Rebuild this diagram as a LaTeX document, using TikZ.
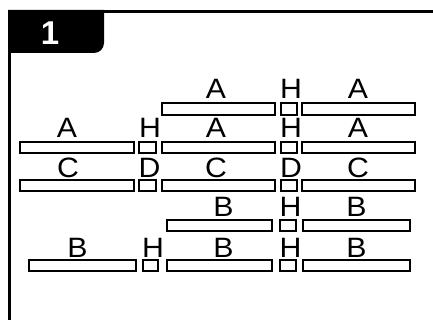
\documentclass[tikz,border=0pt]{standalone}
\usepackage{fontspec}
\setmainfont{Liberation Sans}
\newfontfamily\lblfont[FakeStretch=1.08]{Liberation Sans}
\begin{document}
\begin{tikzpicture}[x=1pt,y=-1pt,
  slot/.style={draw=black,line width=2pt,fill=white,minimum height=11.5pt,inner sep=0pt,outer sep=0pt},
  tag/.style={anchor=base,inner sep=0pt,font=\lblfont\fontsize{28}{28}\selectfont}]
	\useasboundingbox (0,0) rectangle (433,320);
	\clip (0,0) rectangle (433,320);
	% frame and number tab
	\fill[black] (8,10) -- (104,10) -- (104,43) arc[start angle=0,end angle=90,radius=10] -- (8,53) -- cycle;
	\draw[line width=3.5pt] (9.5,330) -- (9.5,11.5) -- (440,11.5);
	\node[anchor=base,inner sep=0pt,text=white,font=\fontsize{33}{33}\selectfont\bfseries] (num) at (50,45) {1};
	% rows 1-3
	\foreach \r/\y in {1/109, 2/147.5, 3/185.5} {
		\node[slot,minimum width=113pt] (m\r) at (218.5,\y) {};
		\node[slot,minimum width=16pt] (h\r) at (289,\y) {};
		\node[slot,minimum width=113pt] (r\r) at (358.5,\y) {};
	}
	\foreach \r/\y in {2/147.5, 3/185.5} {
		\node[slot,minimum width=114pt] (l\r) at (77,\y) {};
		\node[slot,minimum width=17pt] (g\r) at (147.5,\y) {};
	}
	% rows 4-5
	\foreach \r/\y in {4/225.5, 5/265.5} {
		\node[slot,minimum width=105pt] (m\r) at (219.5,\y) {};
		\node[slot,minimum width=16pt] (h\r) at (288,\y) {};
		\node[slot,minimum width=107pt] (r\r) at (356.5,\y) {};
	}
	\node[slot,minimum width=107pt] (l5) at (82.5,265.5) {};
	\node[slot,minimum width=15pt] (g5) at (150.5,265.5) {};
	% letters
	\foreach \n/\x/\y/\t in {
		t1m/216/99/A, t1h/291/99/H, t1r/358/99/A,
		t2l/67/138/A, t2g/150/138/H, t2m/216/138/A, t2h/291/138/H, t2r/358/138/A,
		t3l/68/178/C, t3g/149.5/178/D, t3m/216/178/C, t3h/291/178/D, t3r/358/178/C,
		t4m/223.5/217/B, t4h/290.5/217/H, t4r/356.5/217/B,
		t5l/77.5/257/B, t5g/153/257/H, t5m/223.5/257/B, t5h/290.5/257/H, t5r/356.5/257/B}
		\node[tag] (\n) at (\x,\y) {\t};
\end{tikzpicture}
\end{document}
